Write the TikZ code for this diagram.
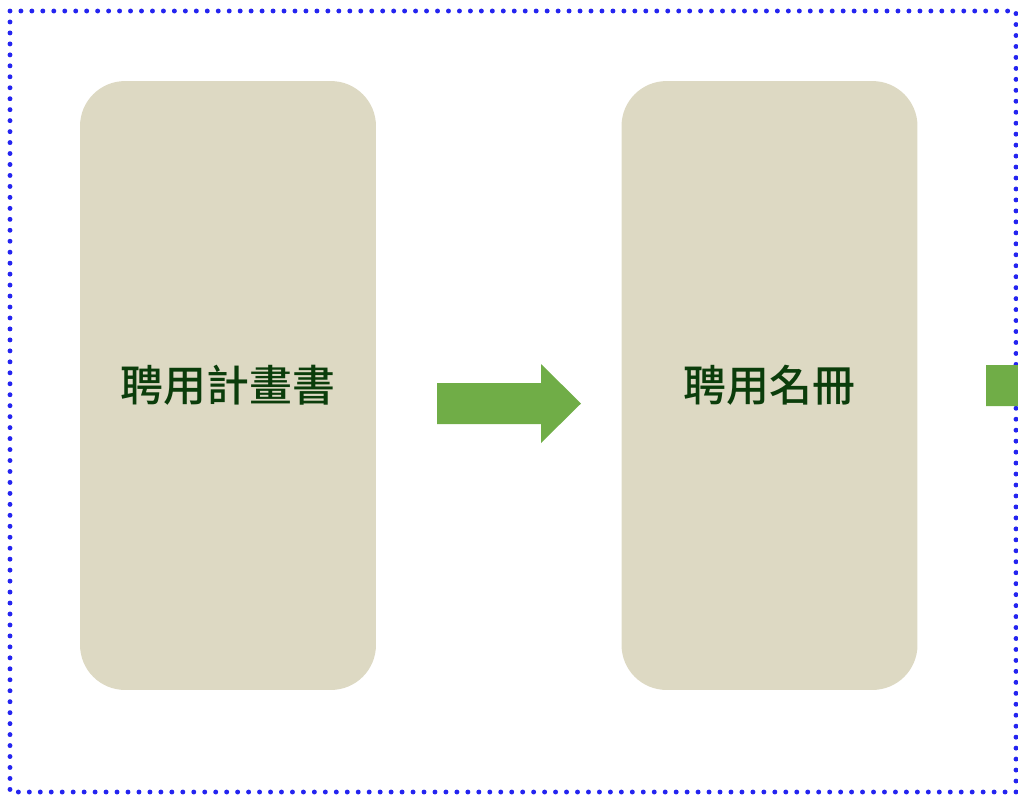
\documentclass[tikz,border=0pt]{standalone}
\usepackage{fontspec}
\newfontfamily\cjk{Noto Sans CJK TC}[UprightFont={* Medium}]
\usepackage{xcolor}
\definecolor{frame}{HTML}{2424F0}
\definecolor{boxbg}{HTML}{DDD9C3}
\definecolor{flow}{HTML}{70AD47}
\definecolor{label}{HTML}{0B3D0B}
\tikzset{
  frameline/.style={draw=frame, line width=2.8pt, line cap=round, dash pattern=on 0pt off 6.24pt},
  stage/.style={
    fill=boxbg,
    rounded corners=0.9cm,
    minimum width=5.92cm,
    minimum height=12.18cm,
    inner sep=0pt,
    text=label,
    font=\cjk\fontsize{24.4pt}{29pt}\selectfont
  },
  flowarrow/.style={fill=flow}
}
\begin{document}
\begin{tikzpicture}[x=0.02cm, y=-0.02cm]
  \useasboundingbox (0,0) rectangle (1018,796);
  \clip (0,0) rectangle (1018,796);

  \draw[frameline] (10,11) rectangle (1016,792);

  \node[stage] (plan)   at (228,385.5)   {聘用計畫書};
  \node[stage] (roster) at (769.5,385.5) {聘用名冊};

  \fill[flowarrow] (437,383) -- (541,383) -- (541,364) -- (581,403.5)
    -- (541,443) -- (541,424) -- (437,424) -- cycle;

  % next step, cut off at the edge
  \fill[flowarrow] (986,365) -- (1090,365) -- (1090,346) -- (1130,385.5)
    -- (1090,425) -- (1090,406) -- (986,406) -- cycle;
\end{tikzpicture}
\end{document}
